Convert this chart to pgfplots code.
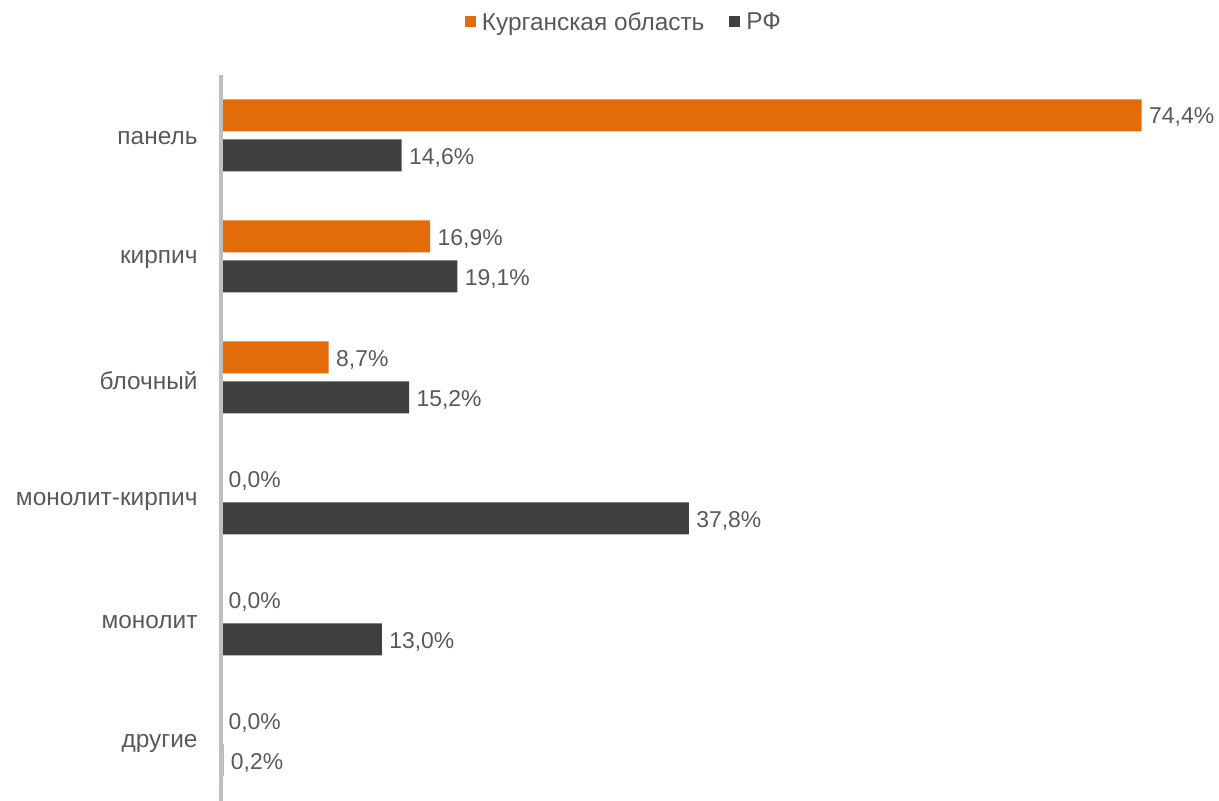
\documentclass[border=0pt]{standalone}
\usepackage{pgfplots}
\pgfplotsset{compat=1.18}
\usepackage{pgfplotstable}
\usepackage{fontspec}
\setmainfont{Liberation Sans}
\definecolor{orng}{HTML}{E36C0A}
\definecolor{dgray}{HTML}{404040}
\definecolor{txt}{HTML}{595959}
\definecolor{axgray}{HTML}{BFBFBF}

% y: 5 = панель (top) ... 0 = другие (bottom)
\pgfplotstableread{
y x label
5 74.4 {74,4\%}
4 16.9 {16,9\%}
3 8.7  {8,7\%}
2 0.0  {0,0\%}
1 0.0  {0,0\%}
0 0.0  {0,0\%}
}\kurgan
\pgfplotstableread{
y x label
5 14.6 {14,6\%}
4 19.1 {19,1\%}
3 15.2 {15,2\%}
2 37.8 {37,8\%}
1 13.0 {13,0\%}
0 0.2  {0,2\%}
}\rf

\begin{document}
\begin{tikzpicture}[x=1bp,y=1bp]
\useasboundingbox (0,0) rectangle (1219,801);
\begin{axis}[
    at={(221bp,0bp)}, anchor=south west,
    scale only axis, width=990bp, height=726bp,
    xmin=0, xmax=80, ymin=-0.5, ymax=5.5,
    xbar, bar width=32bp, clip=false,
    axis on top,
    axis x line=none,
    axis y line*=left,
    axis line style={draw=axgray, line width=3.5bp, -},
    ytick={0,1,2,3,4,5},
    yticklabels={другие,монолит,монолит-кирпич,блочный,кирпич,панель},
    major tick length=0pt,
    yticklabel style={font=\fontsize{24.5}{28}\selectfont, text=txt, anchor=east, xshift=-20bp, yshift=-3bp},
    nodes near coords,
    point meta=explicit symbolic,
    every node near coord/.append style={font=\fontsize{23}{27}\selectfont, text=txt, anchor=west, xshift=4bp, yshift=-2bp},
    legend style={at={(0.407,1.073)}, anchor=center, draw=none, fill=none,
        font=\fontsize{24.5}{28}\selectfont, text=txt, legend columns=2,
        /tikz/every odd column/.append style={column sep=4bp},
        /tikz/every even column/.append style={column sep=23bp}},
    legend image code/.code={\fill[#1] (0bp,-5.5bp) rectangle (11bp,5.5bp);},
]
\addplot[fill=orng, draw=none, bar shift=20bp] table[x=x, y=y, meta=label] {\kurgan};
\addlegendentry{Курганская область}
\addplot[fill=dgray, draw=none, bar shift=-20bp] table[x=x, y=y, meta=label] {\rf};
\addlegendentry{РФ}
\end{axis}
\end{tikzpicture}
\end{document}
